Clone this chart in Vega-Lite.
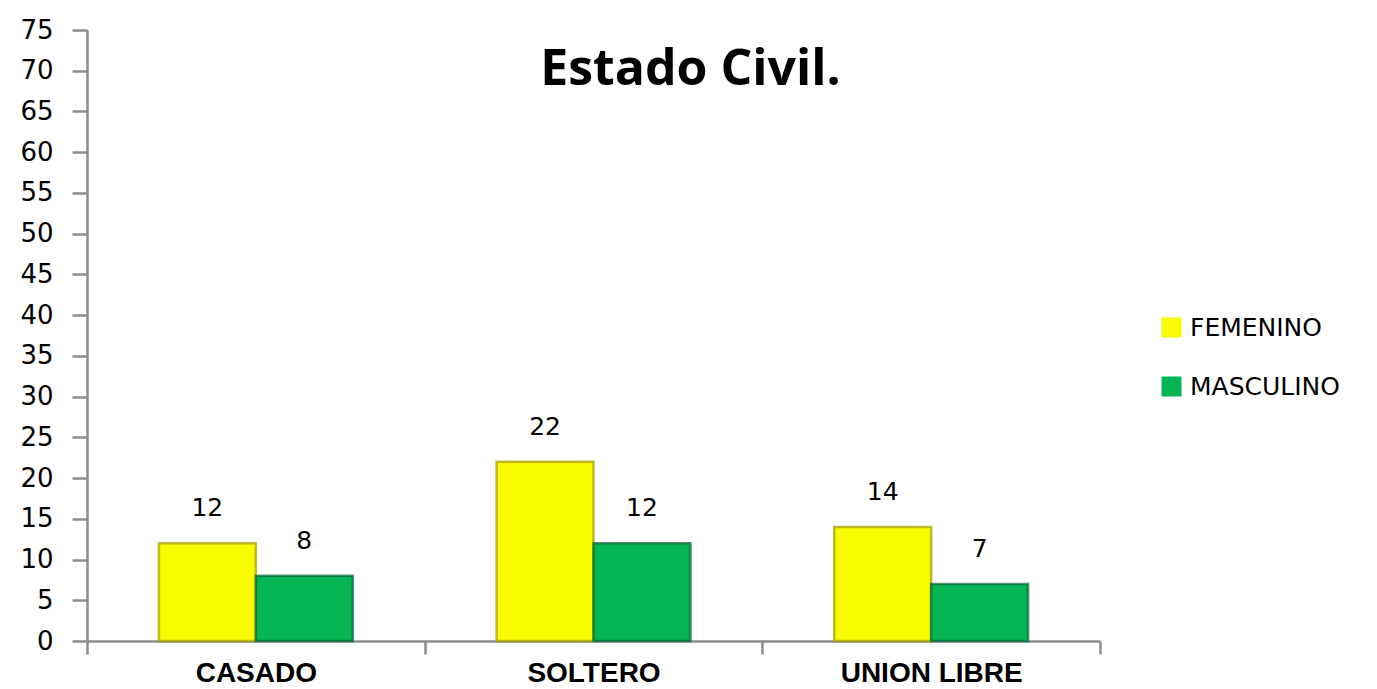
{
  "$schema": "https://vega.github.io/schema/vega-lite/v6.json",
  "width": 1013,
  "height": 611,
  "autosize": "none",
  "padding": {"left": 87, "top": 30, "right": 277, "bottom": 48},
  "background": "white",
  "title": {
    "text": "Estado Civil.",
    "font": "Open Sans",
    "fontSize": 50,
    "fontWeight": "bold",
    "color": "black",
    "anchor": "middle",
    "frame": "group",
    "orient": "top",
    "offset": -78,
    "dx": 97
  },
  "data": {
    "values": [
      {"estado": "CASADO", "sexo": "FEMENINO", "n": 12},
      {"estado": "CASADO", "sexo": "MASCULINO", "n": 8},
      {"estado": "SOLTERO", "sexo": "FEMENINO", "n": 22},
      {"estado": "SOLTERO", "sexo": "MASCULINO", "n": 12},
      {"estado": "UNION LIBRE", "sexo": "FEMENINO", "n": 14},
      {"estado": "UNION LIBRE", "sexo": "MASCULINO", "n": 7}
    ]
  },
  "encoding": {
    "x": {
      "field": "estado",
      "type": "nominal",
      "sort": ["CASADO", "SOLTERO", "UNION LIBRE"],
      "scale": {"paddingInner": 0, "paddingOuter": 0},
      "axis": {
        "title": null,
        "labelAngle": 0,
        "labelFont": "Liberation Sans",
        "labelFontWeight": "bold",
        "labelFontSize": 28,
        "labelColor": "black",
        "labelPadding": 5,
        "labelLimit": 400,
        "domainColor": "#8c8c8c",
        "domainWidth": 2.5,
        "tickColor": "#8c8c8c",
        "tickWidth": 2.5,
        "tickSize": 13,
        "tickBand": "extent"
      }
    },
    "xOffset": {
      "field": "sexo",
      "type": "nominal",
      "scale": {"paddingInner": 0, "paddingOuter": 0.742}
    },
    "y": {
      "field": "n",
      "type": "quantitative",
      "scale": {"domain": [0, 75], "nice": false},
      "axis": {
        "title": null,
        "values": [0, 5, 10, 15, 20, 25, 30, 35, 40, 45, 50, 55, 60, 65, 70, 75],
        "grid": false,
        "labelFont": "DejaVu Sans",
        "labelFontSize": 26,
        "labelColor": "black",
        "labelPadding": 19,
        "domainColor": "#8c8c8c",
        "domainWidth": 2.5,
        "tickColor": "#8c8c8c",
        "tickWidth": 2.5,
        "tickSize": 15
      }
    }
  },
  "layer": [
    {
      "mark": {"type": "bar", "strokeWidth": 2.5, "strokeOpacity": 0.7},
      "encoding": {
        "color": {
          "field": "sexo",
          "type": "nominal",
          "scale": {"domain": ["FEMENINO", "MASCULINO"], "range": ["#FAFA00", "#05B553"]},
          "legend": {
            "title": null,
            "orient": "none",
            "legendX": 1072,
            "legendY": 285,
            "symbolType": "square",
            "symbolSize": 400,
            "symbolStrokeWidth": 0,
            "labelFont": "DejaVu Sans",
            "labelFontSize": 25,
            "labelColor": "black",
            "rowPadding": 33,
            "labelOffset": 6
          }
        },
        "stroke": {
          "field": "sexo",
          "type": "nominal",
          "scale": {"domain": ["FEMENINO", "MASCULINO"], "range": ["#9E9E00", "#07663A"]},
          "legend": null
        }
      }
    },
    {
      "mark": {"type": "text", "font": "DejaVu Sans", "fontSize": 25, "color": "black", "dy": -35, "baseline": "middle"},
      "encoding": {"text": {"field": "n", "type": "quantitative"}}
    }
  ],
  "config": {"view": {"stroke": null}}
}
